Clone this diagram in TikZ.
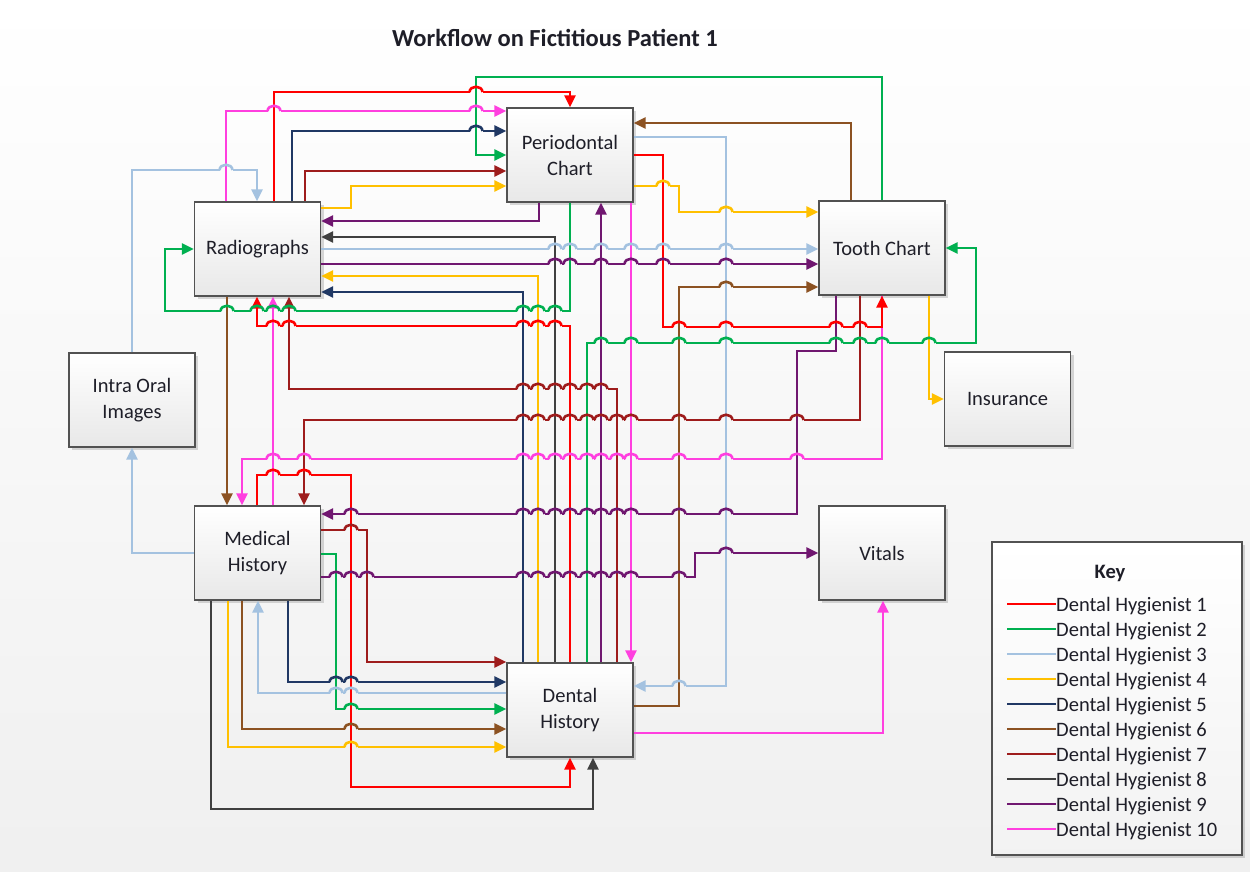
\documentclass[tikz,border=0pt]{standalone}
\usepackage{fontspec}
\setmainfont{Carlito}
\usetikzlibrary{arrows.meta,shadows}
\definecolor{dhone}{HTML}{FF0000}
\definecolor{dhtwo}{HTML}{00B050}
\definecolor{dhthree}{HTML}{A4C2E0}
\definecolor{dhfour}{HTML}{FFC000}
\definecolor{dhfive}{HTML}{203864}
\definecolor{dhsix}{HTML}{8C5222}
\definecolor{dhseven}{HTML}{9E1C1C}
\definecolor{dheight}{HTML}{404040}
\definecolor{dhnine}{HTML}{701770}
\definecolor{dhten}{HTML}{FF3FDF}
\definecolor{txt}{HTML}{1E1E28}
\newcommand\dohop[4]{%
  \pgfmathsetmacro\hopbg{6*#4/872}%
  \fill[black!\hopbg] (#3-6.5,#4-1.9) rectangle (#3+6.5,#4+1.9);
  \draw[#2, line width=2.6pt] (#3,#4-4) -- (#3,#4+4);
  \draw[#1, line width=2.6pt] (#3-6.5,#4) .. controls (#3-6,#4-7) and (#3+6,#4-7) .. (#3+6.5,#4);
}
\newcommand\hops[3]{\foreach \hx/\hv in {#3}{\dohop{#1}{\hv}{\hx}{#2}}}
\begin{document}
\begin{tikzpicture}[x=1pt,y=-1pt,
  box/.style={draw=black!68, line width=1.3pt, top color=white, bottom color=black!9,
    minimum width=126pt, minimum height=94pt, inner sep=0pt, align=center,
    text=txt, font=\fontsize{20.5}{26}\selectfont,
    drop shadow={shadow xshift=3pt, shadow yshift=-3pt, opacity=0.25, fill=black!60}},
  conn/.style={line width=2.6pt, line join=miter, -{Triangle[length=12pt,width=11pt]}},
  dhA/.style={conn, draw=dhone, dhone},
  dhB/.style={conn, draw=dhtwo, dhtwo},
  dhC/.style={conn, draw=dhthree, dhthree},
  dhD/.style={conn, draw=dhfour, dhfour},
  dhE/.style={conn, draw=dhfive, dhfive},
  dhF/.style={conn, draw=dhsix, dhsix},
  dhG/.style={conn, draw=dhseven, dhseven},
  dhH/.style={conn, draw=dheight, dheight},
  dhI/.style={conn, draw=dhnine, dhnine},
  dhJ/.style={conn, draw=dhten, dhten},
  keytext/.style={anchor=base west, inner sep=0pt, text=txt, font=\fontsize{20.5}{25}\selectfont},
  keyline/.style={line width=2.6pt}
]
\useasboundingbox (0,0) rectangle (1250,872);
\shade[top color=white, bottom color=black!6] (0,0) rectangle (1250,872);

\node[text=txt, font=\fontsize{24.5}{28}\selectfont\bfseries] (title) at (555,38) {Workflow on Fictitious Patient 1};

% boxes
\node[box] (per) at (570,155) {Periodontal\\Chart};
\node[box] (rad) at (257.5,249) {Radiographs};
\node[box] (tooth) at (882,248) {Tooth Chart};
\node[box] (intra) at (132,400) {Intra Oral\\Images};
\node[box] (ins) at (1007.5,399) {Insurance};
\node[box] (med) at (257.5,553) {Medical\\History};
\node[box] (vit) at (882,553) {Vitals};
\node[box] (den) at (570,710) {Dental\\History};

% DH3 light blue
\draw[dhC] (132,0 |- intra.north) -- (132,170) -- (257,170) -- (257,0 |- rad.north);
\draw[dhC] (rad.east |- 0,249) -- (tooth.west |- 0,249);
\draw[dhC] (per.east |- 0,137) -- (726,137) -- (726,686) -- (den.east |- 0,686);
\draw[dhC] (med.west |- 0,553) -- (132,553) -- (132,0 |- intra.south);
\draw[dhC] (den.west |- 0,693) -- (258,693) -- (258,0 |- med.south);

% DH2 green
\draw[dhB] (882,0 |- tooth.north) -- (882,77) -- (476,77) -- (476,155) -- (per.west |- 0,155);
\draw[dhB] (570,0 |- per.south) -- (570,311) -- (165,311) -- (165,249) -- (rad.west |- 0,249);
\draw[dhB] (587,0 |- den.north) -- (587,343) -- (976,343) -- (976,248) -- (tooth.east |- 0,248);
\draw[dhB] (med.east |- 0,554) -- (336,554) -- (336,709) -- (den.west |- 0,709);

% DH4 yellow
\draw[dhD] (rad.east |- 0,208) -- (351,208) -- (351,186) -- (per.west |- 0,186);
\draw[dhD] (538,0 |- den.north) -- (538,276) -- (rad.east |- 0,276);
\draw[dhD] (per.east |- 0,186) -- (679,186) -- (679,212) -- (tooth.west |- 0,212);
\draw[dhD] (929,0 |- tooth.south) -- (929,399) -- (ins.west |- 0,399);
\draw[dhD] (228,0 |- med.south) -- (228,747) -- (den.west |- 0,747);

% DH5 navy
\draw[dhE] (292,0 |- rad.north) -- (292,131) -- (per.west |- 0,131);
\draw[dhE] (523,0 |- den.north) -- (523,292) -- (rad.east |- 0,292);
\draw[dhE] (288,0 |- med.south) -- (288,682) -- (den.west |- 0,682);

% DH6 brown
\draw[dhF] (851,0 |- tooth.north) -- (851,123) -- (per.east |- 0,123);
\draw[dhF] (227,0 |- rad.south) -- (227,0 |- med.north);
\draw[dhF] (den.east |- 0,706) -- (679,706) -- (679,287) -- (tooth.west |- 0,287);
\draw[dhF] (242,0 |- med.south) -- (242,729) -- (den.west |- 0,729);

% DH7 dark red
\draw[dhG] (305,0 |- rad.north) -- (305,171) -- (per.west |- 0,171);
\draw[dhG] (617,0 |- den.north) -- (617,389) -- (289,389) -- (289,0 |- rad.south);
\draw[dhG] (860,0 |- tooth.south) -- (860,420) -- (304,420) -- (304,0 |- med.north);
\draw[dhG] (med.east |- 0,530) -- (367,530) -- (367,662) -- (den.west |- 0,662);

% DH8 gray
\draw[dhH] (555,0 |- den.north) -- (555,237) -- (rad.east |- 0,237);
\draw[dhH] (211,0 |- med.south) -- (211,809) -- (593,809) -- (593,0 |- den.south);

% DH9 purple
\draw[dhI] (539,0 |- per.south) -- (539,221) -- (rad.east |- 0,221);
\draw[dhI] (rad.east |- 0,264) -- (tooth.west |- 0,264);
\draw[dhI] (836,0 |- tooth.south) -- (836,351) -- (797,351) -- (797,514) -- (med.east |- 0,514);
\draw[dhI] (med.east |- 0,577) -- (695,577) -- (695,553) -- (vit.west |- 0,553);
\draw[dhI] (601,0 |- den.north) -- (601,0 |- per.south);

% DH10 pink
\draw[dhJ] (226,0 |- rad.north) -- (226,111) -- (per.west |- 0,111);
\draw[dhJ] (273,0 |- med.north) -- (273,0 |- rad.south);
\draw[dhJ] (882,0 |- tooth.south) -- (882,459) -- (242,459) -- (242,0 |- med.north);
\draw[dhJ] (631,0 |- per.south) -- (631,0 |- den.north);
\draw[dhJ] (den.east |- 0,733) -- (883,733) -- (883,0 |- vit.south);

% DH1 red
\draw[dhA] (274,0 |- rad.north) -- (274,92) -- (570,92) -- (570,0 |- per.north);
\draw[dhA] (per.east |- 0,155) -- (663,155) -- (663,327) -- (882,327) -- (882,0 |- tooth.south);
\draw[dhA] (570,0 |- den.north) -- (570,326) -- (257,326) -- (257,0 |- rad.south);
\draw[dhA] (257,0 |- med.north) -- (257,475) -- (351,475) -- (351,787) -- (570,787) -- (570,0 |- den.south);

% line hops (horizontal lines jumping over vertical ones)
\hops{dhthree}{170}{226/dhten}
\hops{dhthree}{249}{555/dheight,570/dhtwo,601/dhnine,631/dhten,663/dhone,726/dhthree}
\hops{dhthree}{686}{679/dhsix}
\hops{dhthree}{693}{336/dhtwo,351/dhone}
\hops{dhtwo}{311}{227/dhsix,257/dhone,273/dhten,289/dhseven,523/dhfive,538/dhfour,555/dheight}
\hops{dhtwo}{343}{601/dhnine,631/dhten,679/dhsix,726/dhthree,836/dhnine,860/dhseven,882/dhten,929/dhfour}
\hops{dhtwo}{709}{351/dhone}
\hops{dhfour}{186}{663/dhone}
\hops{dhfour}{212}{726/dhthree}
\hops{dhfour}{747}{351/dhone}
\hops{dhfive}{131}{476/dhtwo}
\hops{dhfive}{682}{336/dhtwo,351/dhone}
\hops{dhsix}{287}{726/dhthree}
\hops{dhsix}{729}{351/dhone}
\hops{dhseven}{389}{523/dhfive,538/dhfour,555/dheight,570/dhone,587/dhtwo,601/dhnine}
\hops{dhseven}{420}{523/dhfive,538/dhfour,555/dheight,570/dhone,587/dhtwo,601/dhnine,617/dhseven,631/dhten,679/dhsix,726/dhthree,797/dhnine}
\hops{dhseven}{530}{351/dhone}
\hops{dhnine}{264}{555/dheight,570/dhtwo,601/dhnine,631/dhten,663/dhone,726/dhthree}
\hops{dhnine}{514}{351/dhone,523/dhfive,538/dhfour,555/dheight,570/dhone,587/dhtwo,601/dhnine,617/dhseven,631/dhten,679/dhsix,726/dhthree}
\hops{dhnine}{577}{336/dhtwo,351/dhone,367/dhseven,523/dhfive,538/dhfour,555/dheight,570/dhone,587/dhtwo,601/dhnine,617/dhseven,631/dhten,679/dhsix}
\hops{dhnine}{553}{726/dhthree}
\hops{dhten}{111}{274/dhone,476/dhtwo}
\hops{dhten}{459}{273/dhten,304/dhseven,523/dhfive,538/dhfour,555/dheight,570/dhone,587/dhtwo,601/dhnine,617/dhseven,631/dhten,679/dhsix,726/dhthree,797/dhnine}
\hops{dhone}{92}{476/dhtwo}
\hops{dhone}{327}{679/dhsix,726/dhthree,836/dhnine,860/dhseven}
\hops{dhone}{326}{273/dhten,289/dhseven,523/dhfive,538/dhfour,555/dheight}
\hops{dhone}{475}{273/dhten,304/dhseven}

% key
\node[draw=black!68, line width=1.3pt, top color=white, bottom color=black!5,
  minimum width=250pt, minimum height=313pt, inner sep=0pt,
  drop shadow={shadow xshift=3pt, shadow yshift=-3pt, opacity=0.25, fill=black!60}] (key) at (1117,698.5) {};
\node[text=txt, font=\fontsize{20.5}{25}\selectfont\bfseries] (keytitle) at (1110,573) {Key};
\foreach \i/\c/\t in {1/dhone/Dental Hygienist 1, 2/dhtwo/Dental Hygienist 2, 3/dhthree/Dental Hygienist 3,
  4/dhfour/Dental Hygienist 4, 5/dhfive/Dental Hygienist 5, 6/dhsix/Dental Hygienist 6,
  7/dhseven/Dental Hygienist 7, 8/dheight/Dental Hygienist 8, 9/dhnine/Dental Hygienist 9,
  10/dhten/Dental Hygienist 10}{
  \node[keytext] (k\i) at (1056,{604+25*(\i-1)+7}) {\t};
  \coordinate (kl\i) at (1007,{604+25*(\i-1)});
  \draw[keyline, draw=\c] (kl\i) -- (k\i.west |- kl\i);
}
\end{tikzpicture}
\end{document}
